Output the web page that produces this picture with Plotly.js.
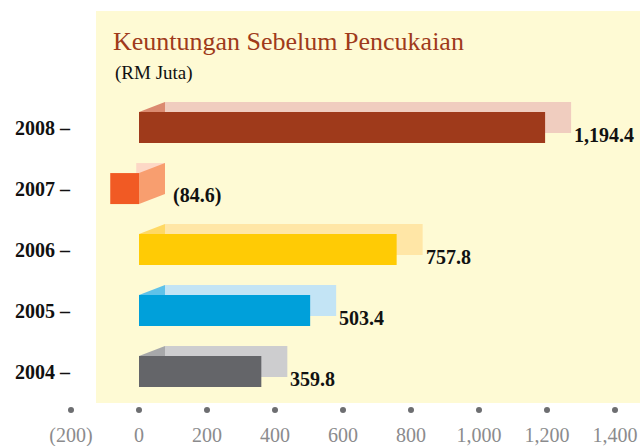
<!DOCTYPE html>
<html>
<head>
<meta charset="utf-8">
<script src="https://cdn.plot.ly/plotly-3.0.1.min.js"></script>
<style>html,body{margin:0;padding:0;background:#fff;}#chart{width:640px;height:446px;}</style>
</head>
<body>
<div id="chart"></div>
<script>
// ---- data ----
const years = ['2004', '2005', '2006', '2007', '2008'];
const profits = [359.8, 503.4, 757.8, -84.6, 1194.4];
const xTickVals = [-200, 0, 200, 400, 600, 800, 1000, 1200, 1400];
const xTickText = ['(200)', '0', '200', '400', '600', '800', '1,000', '1,200', '1,400'];
const yTickText = ['2004 –', '2005 –', '2006 –', '2007 –', '2008 –'];

// ---- style ----
const frontColors = ['#646569', '#00a0da', '#ffcb05', '#f15a24', '#9f3a1b'];
const sideColors  = ['#a7a8aa', '#5fc2e9', '#ffd964', '#f89e6f', '#db8a70'];
const backColors  = ['#cdcdcf', '#c3e4f5', '#ffe6a6', '#fdd8c6', '#f0cdbf'];
const pxPerUnitX = 544 / 1600;
const pxPerUnitY = 61;
const offU = 26 / pxPerUnitX;   // depth shift (x)
const dyU = 10 / pxPerUnitY;    // depth shift (y)
const barW = 31 / pxPerUnitY;
const idx = years.map((_, i) => i);

function fmt(v) {
  const s = Math.abs(v).toLocaleString('en-US', {minimumFractionDigits: 1, maximumFractionDigits: 1});
  return v < 0 ? '(' + s + ')' : s;
}

const traces = [];
// back (shadow) bars
traces.push({
  type: 'bar', orientation: 'h',
  y: idx,
  x: profits.map(v => Math.abs(v)),
  base: profits.map(v => v < 0 ? v + offU : offU),
  width: barW, offset: -barW / 2 + dyU,
  marker: {color: backColors, line: {width: 0}},
  hoverinfo: 'skip'
});
// front bars
traces.push({
  type: 'bar', orientation: 'h',
  y: idx, x: profits, base: 0,
  width: barW, offset: -barW / 2,
  marker: {color: frontColors, line: {width: 0}},
  hoverinfo: 'skip'
});
// connecting faces
profits.forEach((v, i) => {
  const top = i + barW / 2, bot = i - barW / 2;
  let xs, ys;
  if (v >= 0) {
    xs = [0, offU, offU, 0];
    ys = [top, top + dyU, top, top];
  } else {
    xs = [0, offU, offU, 0, 0];
    ys = [top, top + dyU, bot + dyU, bot, top];
  }
  traces.push({
    type: 'scatter', mode: 'lines', x: xs, y: ys,
    fill: 'toself', fillcolor: sideColors[i],
    line: {width: 0, color: sideColors[i]},
    hoverinfo: 'skip'
  });
});
// axis dots
const yMin = -0.63, yMax = yMin + 390 / pxPerUnitY;
traces.push({
  type: 'scatter', mode: 'markers',
  x: xTickVals, y: xTickVals.map(() => yMin),
  marker: {color: '#6d6e71', size: 6},
  cliponaxis: false, hoverinfo: 'skip'
});

const annotations = profits.map((v, i) => ({
  xref: 'x', yref: 'y',
  x: v >= 0 ? v + offU : offU,
  y: i, xanchor: 'left', yanchor: 'middle',
  xshift: v >= 0 ? 1 : 6, yshift: -7,
  text: fmt(v), showarrow: false,
  font: {family: 'Liberation Serif', size: 20, color: '#111', weight: 'bold'}
}));
annotations.push({
  xref: 'paper', yref: 'paper', x: (113 - 71) / 544, y: (410 - 73) / 390,
  xanchor: 'left', yanchor: 'middle', showarrow: false,
  text: '(RM Juta)',
  font: {family: 'Liberation Serif', size: 19, color: '#111'}
});

const layout = {
  width: 640, height: 446,
  margin: {l: 71, r: 25, t: 20, b: 36},
  paper_bgcolor: '#ffffff', plot_bgcolor: 'rgba(0,0,0,0)',
  showlegend: false, barmode: 'overlay',
  title: {
    text: 'Keuntungan Sebelum Pencukaian',
    xref: 'container', yref: 'container',
    x: 113 / 640, xanchor: 'left', y: 1 - 41 / 446, yanchor: 'middle',
    font: {family: 'Liberation Serif', size: 26, color: '#9f3a1b'}
  },
  xaxis: {
    range: [-200, 1400], tickvals: xTickVals, ticktext: xTickText,
    showgrid: false, zeroline: false, showline: false,
    ticks: 'outside', ticklen: 7, tickcolor: 'rgba(0,0,0,0)',
    tickfont: {family: 'Liberation Serif', size: 20, color: '#8b8b8d'},
    fixedrange: true
  },
  yaxis: {
    range: [yMin, yMax], tickvals: idx, ticktext: yTickText,
    showgrid: false, zeroline: false, showline: false, ticks: '',
    tickfont: {family: 'Liberation Serif', size: 20, color: '#111', weight: 'bold'},
    fixedrange: true
  },
  shapes: [{
    type: 'rect', xref: 'paper', yref: 'paper', layer: 'below',
    x0: (96 - 71) / 544, x1: (640 - 71) / 544,
    y0: (410 - 403) / 390, y1: (410 - 11) / 390,
    fillcolor: '#fefad4', line: {width: 0}
  }],
  annotations: annotations
};

Plotly.newPlot('chart', traces, layout, {displayModeBar: false, staticPlot: true});
</script>
</body>
</html>
